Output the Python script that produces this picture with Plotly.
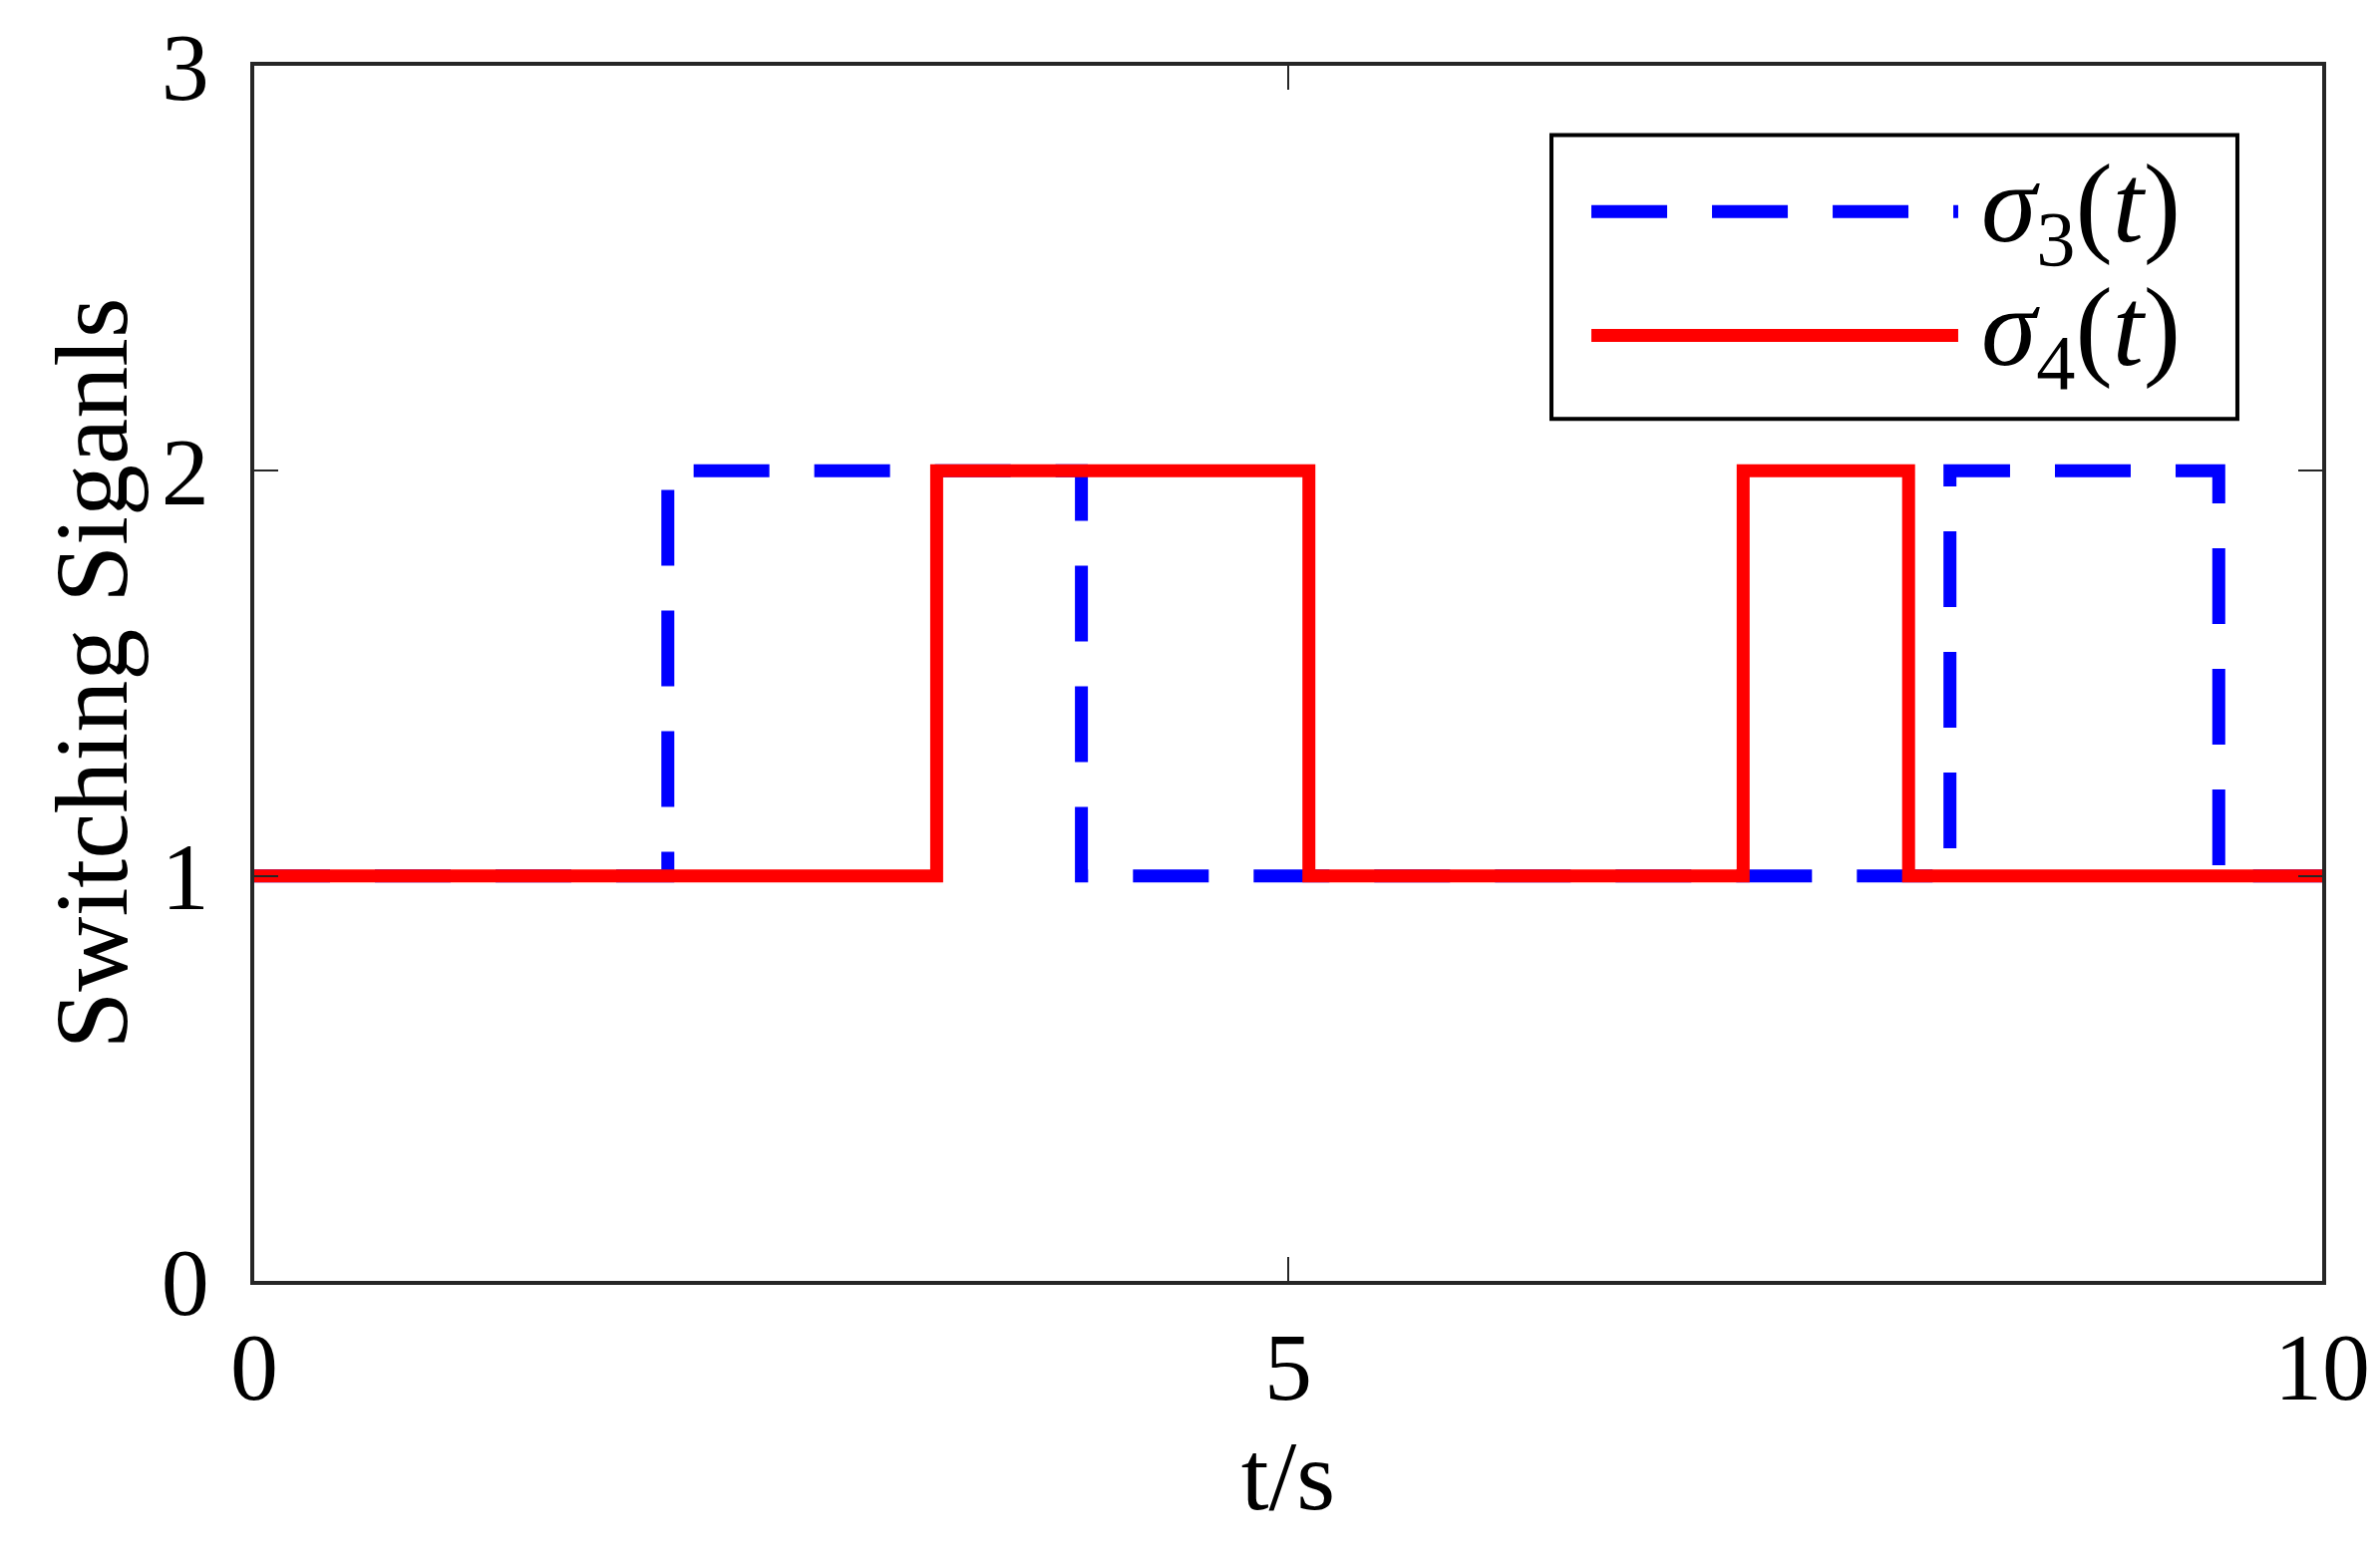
import plotly.graph_objects as go

# Data: switching instants (s) and mode values
t_sigma3 = [0, 2.0, 4.0, 8.2, 9.5, 10]
v_sigma3 = [1, 2, 1, 2, 1, 1]
t_sigma4 = [0, 3.3, 5.1, 7.2, 8.0, 10]
v_sigma4 = [1, 2, 1, 2, 1, 1]
x_ticks = [0, 5, 10]
y_ticks = [0, 1, 2, 3]
names = ["<i>σ</i><sub>3</sub>(<i>t</i>)", "<i>σ</i><sub>4</sub>(<i>t</i>)"]

FONT = "Liberation Serif, Times New Roman, serif"
BLUE = "#0000FF"
RED = "#FF0000"
DASH = "76px,45px"

fig = go.Figure()
fig.add_trace(go.Scatter(x=t_sigma3, y=v_sigma3, mode="lines", line_shape="hv",
                         line=dict(color=BLUE, width=13, dash=DASH), name=names[0],
                         showlegend=False))
fig.add_trace(go.Scatter(x=t_sigma4, y=v_sigma4, mode="lines", line_shape="hv",
                         line=dict(color=RED, width=13), name=names[1],
                         showlegend=False))

# custom legend (box, sample lines, labels) in paper coordinates
lx0, lx1, ly0, ly1 = 0.6273, 0.9590, 0.7094, 0.9429
fig.add_shape(type="rect", xref="paper", yref="paper", x0=lx0, x1=lx1, y0=ly0, y1=ly1,
              line=dict(color="black", width=4), fillcolor="white", layer="above")
rows = [0.880, 0.778]
styles = [dict(color=BLUE, width=13, dash=DASH), dict(color=RED, width=13)]
for yy, st, nm in zip(rows, styles, names):
    fig.add_shape(type="line", xref="paper", yref="paper", x0=0.6466, x1=0.8240,
                  y0=yy, y1=yy, line=st, layer="above")
    fig.add_annotation(xref="paper", yref="paper", x=0.834, y=yy, text=nm,
                       showarrow=False, xanchor="left", yanchor="middle",
                       font=dict(family=FONT, size=112, color="black"))

axis_common = dict(showline=True, linecolor="#262626", linewidth=4, mirror="ticks",
                   ticks="inside", ticklen=24, tickwidth=2, tickcolor="#262626",
                   showgrid=False, zeroline=False, ticklabeloverflow="allow",
                   tickfont=dict(family=FONT, size=96, color="black"))

fig.update_xaxes(range=[0, 10], tickvals=x_ticks, ticktext=[str(v) for v in x_ticks],
                 title=dict(text="t/s", font=dict(family=FONT, size=100, color="black"),
                            standoff=15),
                 **axis_common)
fig.update_yaxes(range=[0, 3], tickvals=y_ticks, ticktext=[str(v) for v in y_ticks],
                 ticklabelstandoff=22,
                 title=dict(text="Switching Siganls", font=dict(family=FONT, size=104, color="black"),
                            standoff=0),
                 **axis_common)

fig.update_layout(width=2387, height=1568, plot_bgcolor="white", paper_bgcolor="white",
                  margin=dict(l=247, r=66, t=58, b=291, autoexpand=False))

fig.write_html("out.html")
